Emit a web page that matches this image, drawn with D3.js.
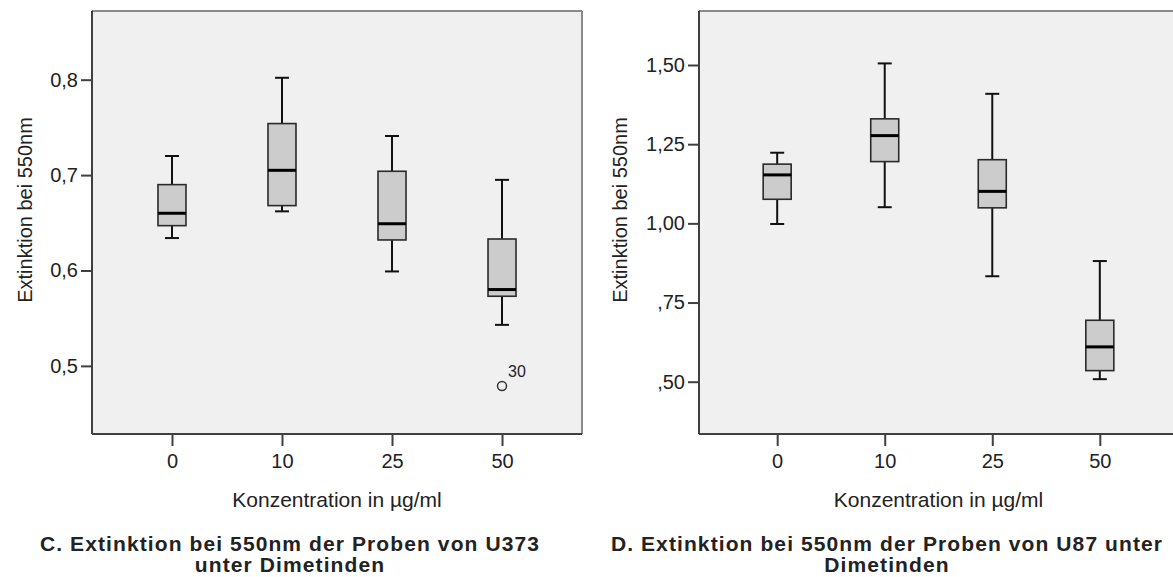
<!DOCTYPE html>
<html>
<head>
<meta charset="utf-8">
<script src="https://cdn.jsdelivr.net/npm/d3@7"></script>
<style>
  html, body { margin: 0; padding: 0; background: #ffffff; }
  svg { display: block; }
  text { font-family: "Liberation Sans", Arial, sans-serif; fill: #222; }
</style>
</head>
<body>
<svg id="chart" width="1173" height="577"></svg>
<script>
// Concentration groups (µg/ml)
const categories = ["0", "10", "25", "50"];

// U373: box statistics per concentration
const u373Low    = [0.634, 0.662, 0.599, 0.543];
const u373Q1     = [0.647, 0.668, 0.632, 0.573];
const u373Median = [0.660, 0.705, 0.649, 0.580];
const u373Q3     = [0.690, 0.754, 0.704, 0.633];
const u373High   = [0.720, 0.802, 0.741, 0.695];
const u373Outliers = [{ group: "50", value: 0.479, label: "30" }];
const u373Ticks = [0.5, 0.6, 0.7, 0.8];
const u373TickLabels = ["0,5", "0,6", "0,7", "0,8"];

// U87: box statistics per concentration
const u87Low    = [0.998, 1.051, 0.833, 0.508];
const u87Q1     = [1.076, 1.195, 1.049, 0.535];
const u87Median = [1.153, 1.277, 1.101, 0.610];
const u87Q3     = [1.187, 1.330, 1.201, 0.694];
const u87High   = [1.223, 1.505, 1.409, 0.881];
const u87Outliers = [];
const u87Ticks = [0.5, 0.75, 1.0, 1.25, 1.5];
const u87TickLabels = [",50", ",75", "1,00", "1,25", "1,50"];

const svg = d3.select("#chart");

function drawPanel(cfg) {
  const { x0, x1, y0, y1 } = cfg;
  const g = svg.append("g");

  // plot background
  g.append("rect")
    .attr("x", x0).attr("y", y0)
    .attr("width", x1 - x0).attr("height", y1 - y0)
    .attr("fill", "#f0f0f0");

  const x = d3.scalePoint().domain(categories).range([x0, x1]).padding(0.727);
  const y = d3.scaleLinear().domain(cfg.domain).range([y1, y0]);

  // top and right frame lines
  g.append("line").attr("x1", x0).attr("x2", x1).attr("y1", y0).attr("y2", y0)
    .attr("stroke", "#8a8a8a").attr("stroke-width", 2);
  g.append("line").attr("x1", x1).attr("x2", x1).attr("y1", y0).attr("y2", y1)
    .attr("stroke", "#8a8a8a").attr("stroke-width", 2);

  // y axis
  const yAxis = d3.axisLeft(y)
    .tickValues(cfg.ticks)
    .tickFormat((d, i) => cfg.tickLabels[i])
    .tickSize(11).tickPadding(3);
  const ya = g.append("g").attr("transform", `translate(${x0},0)`).call(yAxis);
  ya.select(".domain").attr("stroke", "#404040").attr("stroke-width", 2)
    .attr("d", `M0,${y0}V${y1}`);
  ya.selectAll(".tick line").attr("stroke", "#404040").attr("stroke-width", 2);
  ya.selectAll(".tick text").attr("font-size", 20).attr("fill", "#333")
    .attr("font-family", "Liberation Sans, Arial, sans-serif");

  // x axis
  const xAxis = d3.axisBottom(x).tickSize(12).tickPadding(8);
  const xa = g.append("g").attr("transform", `translate(0,${y1})`).call(xAxis);
  xa.select(".domain").attr("stroke", "#404040").attr("stroke-width", 2)
    .attr("d", `M${x0},0H${x1}`);
  xa.selectAll(".tick line").attr("stroke", "#404040").attr("stroke-width", 2);
  xa.selectAll(".tick text").attr("font-size", 20).attr("fill", "#333")
    .attr("font-family", "Liberation Sans, Arial, sans-serif");

  // axis titles
  g.append("text")
    .attr("x", (x0 + x1) / 2).attr("y", 507)
    .attr("text-anchor", "middle").attr("font-size", 21).attr("fill", "#333")
    .text("Konzentration in µg/ml");
  g.append("text")
    .attr("transform", `translate(${cfg.yTitleX},210) rotate(-90)`)
    .attr("text-anchor", "middle").attr("font-size", 20).attr("fill", "#333")
    .text("Extinktion bei 550nm");

  // boxes
  const boxW = 28, capW = 14;
  const rows = categories.map((c, i) => ({
    c, lo: cfg.low[i], q1: cfg.q1[i], med: cfg.median[i], q3: cfg.q3[i], hi: cfg.high[i]
  }));
  const b = g.selectAll("g.box").data(rows).join("g").attr("class", "box");

  b.append("line")
    .attr("x1", d => x(d.c)).attr("x2", d => x(d.c))
    .attr("y1", d => y(d.hi)).attr("y2", d => y(d.q3))
    .attr("stroke", "#111").attr("stroke-width", 2);
  b.append("line")
    .attr("x1", d => x(d.c)).attr("x2", d => x(d.c))
    .attr("y1", d => y(d.q1)).attr("y2", d => y(d.lo))
    .attr("stroke", "#111").attr("stroke-width", 2);
  b.append("line")
    .attr("x1", d => x(d.c) - capW / 2).attr("x2", d => x(d.c) + capW / 2)
    .attr("y1", d => y(d.hi)).attr("y2", d => y(d.hi))
    .attr("stroke", "#111").attr("stroke-width", 2);
  b.append("line")
    .attr("x1", d => x(d.c) - capW / 2).attr("x2", d => x(d.c) + capW / 2)
    .attr("y1", d => y(d.lo)).attr("y2", d => y(d.lo))
    .attr("stroke", "#111").attr("stroke-width", 2);
  b.append("rect")
    .attr("x", d => x(d.c) - boxW / 2).attr("width", boxW)
    .attr("y", d => y(d.q3)).attr("height", d => y(d.q1) - y(d.q3))
    .attr("fill", "#cccccc").attr("stroke", "#2a2a2a").attr("stroke-width", 1.6);
  b.append("line")
    .attr("x1", d => x(d.c) - boxW / 2).attr("x2", d => x(d.c) + boxW / 2)
    .attr("y1", d => y(d.med)).attr("y2", d => y(d.med))
    .attr("stroke", "#000").attr("stroke-width", 3);

  // outliers
  const o = g.selectAll("g.outlier").data(cfg.outliers).join("g").attr("class", "outlier");
  o.append("circle")
    .attr("cx", d => x(d.group)).attr("cy", d => y(d.value)).attr("r", 4.5)
    .attr("fill", "none").attr("stroke", "#333").attr("stroke-width", 1.5);
  o.append("text")
    .attr("x", d => x(d.group) + 6).attr("y", d => y(d.value) - 9)
    .attr("font-size", 16).attr("fill", "#222")
    .text(d => d.label);

  // panel title, two lines
  g.selectAll("text.title").data(cfg.title).join("text")
    .attr("class", "title")
    .attr("x", cfg.titleX).attr("y", (d, i) => 551 + i * 21)
    .attr("text-anchor", "middle").attr("font-size", 21).attr("font-weight", "bold")
    .attr("letter-spacing", 1.1)
    .attr("fill", "#000")
    .text(d => d);
}

drawPanel({
  x0: 92, x1: 582, y0: 11, y1: 434,
  domain: [0.4286, 0.872],
  ticks: u373Ticks, tickLabels: u373TickLabels,
  low: u373Low, q1: u373Q1, median: u373Median, q3: u373Q3, high: u373High,
  outliers: u373Outliers,
  yTitleX: 32,
  titleX: 290,
  title: ["C. Extinktion bei 550nm der Proben von U373", "unter Dimetinden"]
});

drawPanel({
  x0: 699, x1: 1178, y0: 11, y1: 434,
  domain: [0.3349, 1.6705],
  ticks: u87Ticks, tickLabels: u87TickLabels,
  low: u87Low, q1: u87Q1, median: u87Median, q3: u87Q3, high: u87High,
  outliers: u87Outliers,
  yTitleX: 627,
  titleX: 887,
  title: ["D. Extinktion bei 550nm der Proben von U87 unter", "Dimetinden"]
});
</script>
</body>
</html>
